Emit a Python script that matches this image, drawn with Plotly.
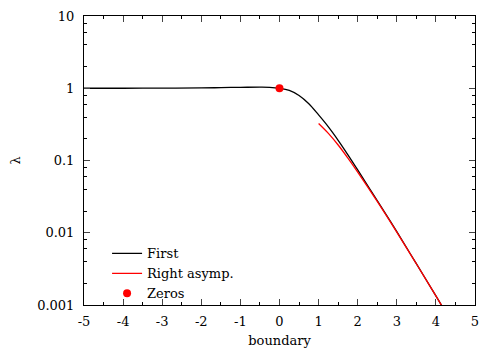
import plotly.graph_objects as go

# first eigenvalue vs boundary parameter
first_x = [-5, -4, -3, -2, -1.5, -1, -0.5, -0.25, 0, 0.25, 0.5, 0.75, 1.0,
           1.25, 1.5, 1.75, 2.0, 2.25, 2.5, 3.0, 3.5, 4.0, 4.2]
first_y = [1.0, 1.0, 1.005, 1.01, 1.02, 1.03, 1.035, 1.03, 1.0, 0.933, 0.794, 0.610, 0.427,
           0.292, 0.1905, 0.120, 0.0741, 0.0452, 0.0279, 0.01035, 0.00373, 0.001337, 0.000883]

# right asymptotic form
asym_x = [1.0, 1.25, 1.5, 1.75, 2.0, 2.5, 3.0, 3.5, 4.0, 4.2]
asym_y = [0.325, 0.237, 0.164, 0.108, 0.0692, 0.0272, 0.01023, 0.00372, 0.001334, 0.000881]

# zeros
zero_x = [0]
zero_y = [1.0]

x_ticks = [-5, -4, -3, -2, -1, 0, 1, 2, 3, 4, 5]
y_ticks = [0.001, 0.01, 0.1, 1, 10]
y_labels = ['0.001', '0.01', '0.1', '1', '10']

fig = go.Figure()
fig.add_trace(go.Scatter(x=first_x, y=first_y, mode='lines', name='First',
                         line=dict(color='black', width=1.3, shape='spline')))
fig.add_trace(go.Scatter(x=asym_x, y=asym_y, mode='lines', name='Right asymp.',
                         line=dict(color='red', width=1.3, shape='spline')))
fig.add_trace(go.Scatter(x=zero_x, y=zero_y, mode='markers', name='Zeros',
                         marker=dict(color='red', size=8)))

font = dict(family='DejaVu Serif, Liberation Serif, serif', size=13, color='black')

# page body has an 8px margin, so the figure is shrunk by that much
fig.update_layout(
    width=492, height=342,
    margin=dict(l=76, r=25, t=8, b=45),
    plot_bgcolor='white', paper_bgcolor='white',
    font=font,
    showlegend=True,
    legend=dict(x=0.059, y=-0.012, xanchor='left', yanchor='bottom',
                bgcolor='rgba(0,0,0,0)', font=font, tracegroupgap=0),
)
fig.update_xaxes(range=[-5, 5], tickvals=x_ticks, ticktext=[str(v) for v in x_ticks],
                 ticks='inside', ticklen=6, automargin=False, ticklabelstandoff=4,
                 showline=True, linecolor='black', linewidth=1, mirror='ticks',
                 showgrid=False, zeroline=False, tickfont=font,
                 minor=dict(dtick=0.5, ticks='inside', ticklen=3, tickcolor='black'),
                 title=dict(text='boundary', standoff=8, font=font))
fig.update_yaxes(type='log', range=[-3, 1], tickvals=y_ticks, ticktext=y_labels,
                 ticks='inside', ticklen=6, automargin=False, ticklabelstandoff=6,
                 showline=True, linecolor='black', linewidth=1, mirror='ticks',
                 showgrid=False, zeroline=False, tickfont=font,
                 minor=dict(tickmode='array', ticks='inside', ticklen=3, tickcolor='black',
                            tickvals=[m * 10 ** e for e in range(-3, 1) for m in (2, 4, 6, 8)]),
                 title=dict(text='λ', standoff=30, font=font))

fig.write_html("out.html")
